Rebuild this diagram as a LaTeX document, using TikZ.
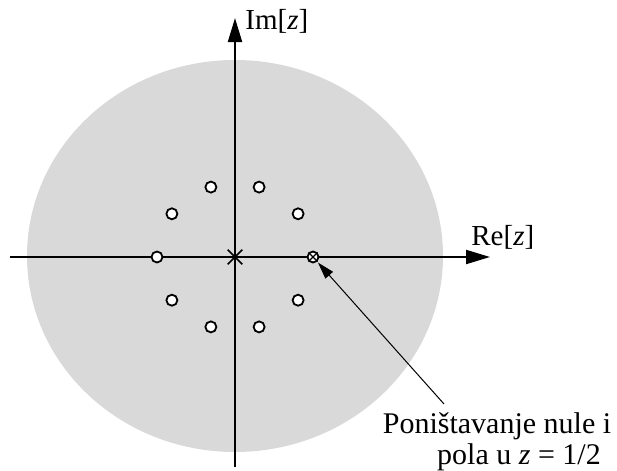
\documentclass[tikz,border=0pt]{standalone}
\usepackage{fontspec}
\setmainfont{Liberation Serif}
\usetikzlibrary{arrows.meta,shapes.misc}
\definecolor{disk}{gray}{0.85}
\begin{document}
\begin{tikzpicture}[x=0.5pt,y=-0.5pt,
  axis/.style={line width=1pt,-{Triangle[length=12pt,width=7pt]}},
  zero/.style={circle,draw,fill=white,line width=0.9pt,minimum size=5.5pt,inner sep=0pt},
  pole/.style={cross out,draw,line width=0.8pt,minimum size=6.5pt,inner sep=0pt},
  smallpole/.style={cross out,draw,line width=0.7pt,minimum size=3.8pt,inner sep=0pt},
  lbl/.style={inner sep=0pt,font=\fontsize{14.5}{17}\selectfont},
  notetext/.style={inner sep=0pt,font=\fontsize{15}{17}\selectfont},
  note/.style={line width=0.5pt,-{Triangle[length=8.5pt,width=5pt]},shorten >=0.5pt}
]
\useasboundingbox (0,0) rectangle (617,471);
\fill[disk] (235,256) ellipse [x radius=208, y radius=196];
% axes
\coordinate (xl) at (10,257);
\coordinate (xr) at (490,257);
\coordinate (yb) at (235,467);
\coordinate (yt) at (235,18);
\draw[axis] (xl) -- (xr);
\draw[axis] (yb) -- (yt);
\node[lbl,anchor=west] (im) at (245,21) {Im[\textit{z}]};
\node[lbl,anchor=west] (re) at (471,237) {Re[\textit{z}]};
% pole at origin
\node[pole] (p0) at (235,257) {};
% zeros on circle |z| = 1/2
\foreach \k in {1,...,9}{
  \node[zero] (z\k) at ({235+78*cos(36*\k)},{257-73.5*sin(36*\k)}) {};
}
% pole-zero cancellation at z = 1/2
\node[zero] (pz) at (313,257) {};
\node[smallpole] (pzx) at (313,257) {};
% annotation
\coordinate (tail) at (444,404);
\draw[note] (tail) -- (pz);
\node[notetext] (n1) at (497,426) {Poništavanje nule i};
\node[notetext] (n2) at (519,457) {pola u \textit{z} = 1/2};
\end{tikzpicture}
\end{document}
